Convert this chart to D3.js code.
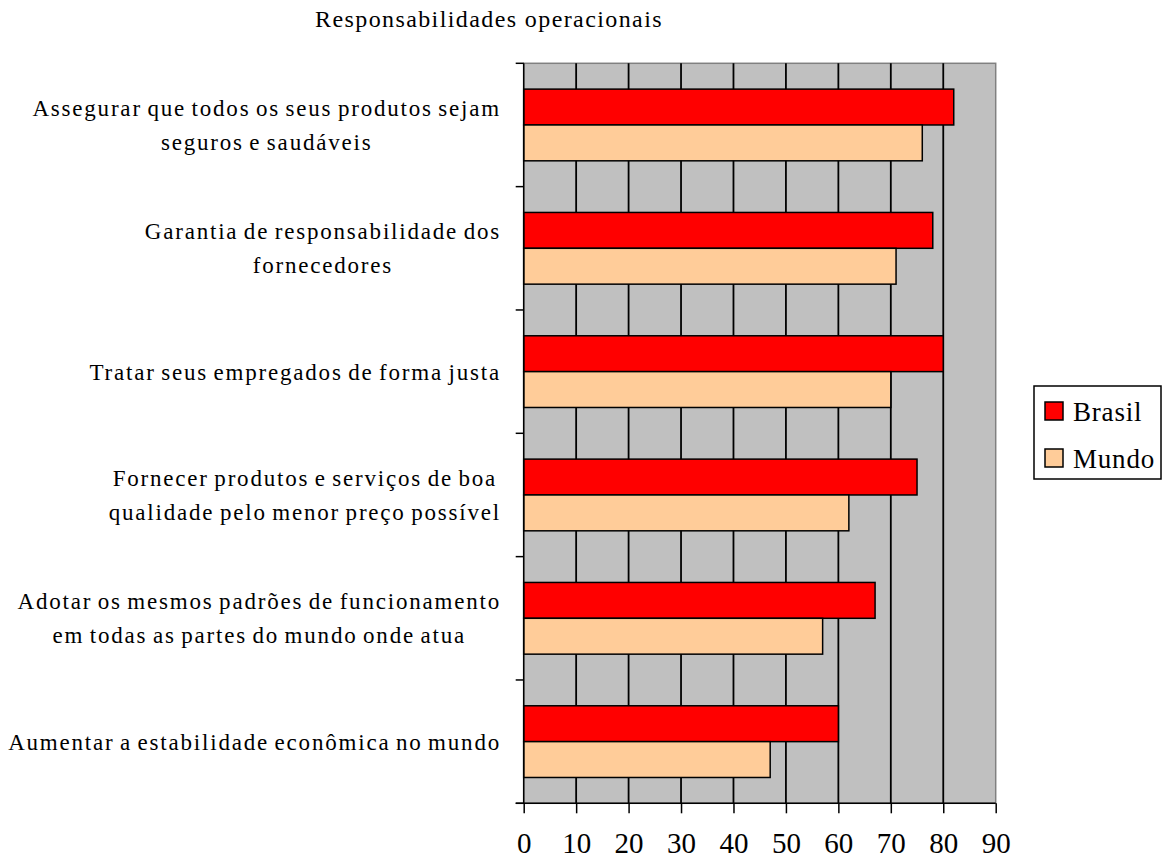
<!DOCTYPE html>
<html>
<head>
<meta charset="utf-8">
<script src="https://cdn.jsdelivr.net/npm/d3@7"></script>
<style>
  body { margin: 0; background: #fff; }
  text { font-family: "Liberation Serif", "Times New Roman", serif; fill: #000; }
</style>
</head>
<body>
<div id="chart"></div>
<script>
// chart data
const title = 'Responsabilidades operacionais'
const categories = [
  ['Assegurar que todos os seus produtos sejam', 'seguros e saudáveis'],
  ['Garantia de responsabilidade dos', 'fornecedores'],
  ['Tratar seus empregados de forma justa'],
  ['Fornecer produtos e serviços de boa', 'qualidade pelo menor preço possível'],
  ['Adotar os mesmos padrões de funcionamento', 'em todas as partes do mundo onde atua'],
  ['Aumentar a estabilidade econômica no mundo']
]
const seriesNames = ['Brasil', 'Mundo']
const brasil = [82, 78, 80, 75, 67, 60]
const mundo = [76, 71, 70, 62, 57, 47]
const xTicks = [0, 10, 20, 30, 40, 50, 60, 70, 80, 90]
const colors = ['#ff0000', '#ffcc99']

const width = 1170
const height = 865
const plot = { left: 523.7, right: 995.7, top: 63.3, bottom: 803.3 }

const svg = d3.select('#chart').append('svg')
  .attr('width', width)
  .attr('height', height)

const x = d3.scaleLinear().domain([0, 90]).range([plot.left, plot.right])
const y0 = d3.scaleBand().domain(d3.range(categories.length)).range([plot.top, plot.bottom])
const y1 = d3.scaleBand().domain(seriesNames).range([0, y0.bandwidth()]).paddingOuter(0.72)

// plot background
svg.append('rect')
  .attr('x', plot.left).attr('y', plot.top)
  .attr('width', plot.right - plot.left).attr('height', plot.bottom - plot.top)
  .attr('fill', '#c0c0c0')
  .attr('stroke', '#808080')
  .attr('stroke-width', 1.5)

// vertical gridlines
svg.append('g').selectAll('line')
  .data(xTicks.filter(d => d > 0 && d < 90))
  .join('line')
  .attr('x1', d => x(d)).attr('x2', d => x(d))
  .attr('y1', plot.top).attr('y2', plot.bottom)
  .attr('stroke', '#000')
  .attr('stroke-width', 1.8)

// bars
const values = [brasil, mundo]
const groups = svg.append('g').selectAll('g')
  .data(categories.map((c, i) => i))
  .join('g')
  .attr('transform', i => `translate(0,${y0(i)})`)

groups.selectAll('rect')
  .data(i => seriesNames.map((s, k) => ({ s, k, v: values[k][i] })))
  .join('rect')
  .attr('x', x(0))
  .attr('y', d => y1(d.s))
  .attr('width', d => x(d.v) - x(0))
  .attr('height', y1.bandwidth())
  .attr('fill', d => colors[d.k])
  .attr('stroke', '#000')
  .attr('stroke-width', 1.5)

// left axis
const yAxis = svg.append('g')
yAxis.append('line')
  .attr('x1', plot.left).attr('x2', plot.left)
  .attr('y1', plot.top).attr('y2', plot.bottom)
  .attr('stroke', '#000').attr('stroke-width', 1.5)
yAxis.selectAll('.tick')
  .data(d3.range(categories.length + 1))
  .join('line')
  .attr('x1', plot.left - 8).attr('x2', plot.left)
  .attr('y1', i => plot.top + i * y0.step())
  .attr('y2', i => plot.top + i * y0.step())
  .attr('stroke', '#000').attr('stroke-width', 1.5)

// bottom axis
const xAxis = svg.append('g')
  .attr('transform', `translate(0,${plot.bottom})`)
  .call(d3.axisBottom(x).tickValues(xTicks).tickSize(10).tickFormat(d3.format('d')))
xAxis.select('.domain').attr('stroke', '#000').attr('stroke-width', 1.5)
  .attr('d', `M${plot.left - 8},0H${plot.right}`)
xAxis.selectAll('.tick line').attr('stroke', '#000').attr('stroke-width', 1.5)
xAxis.selectAll('.tick text')
  .attr('y', 50)
  .attr('dy', 0)
  .style('font-family', '"Liberation Serif", serif')
  .style('font-size', '29px')
  .attr('fill', '#000')

// category labels
const lineGap = 34
categories.forEach((lines, i) => {
  const cy = y0(i) + y0.bandwidth() / 2
  const t = svg.append('text')
    .style('font-size', '23px')
    .style('letter-spacing', '1.8px')
    .style('word-spacing', '-2px')
    .attr('text-anchor', 'middle')
  lines.forEach((ln, j) => {
    t.append('tspan')
      .attr('y', cy + (j - (lines.length - 1) / 2) * lineGap + 8)
      .text(ln)
  })
  const maxW = d3.max(t.selectAll('tspan').nodes(), n => n.getComputedTextLength())
  t.selectAll('tspan').attr('x', 501 - maxW / 2)
})

// title
svg.append('text')
  .attr('x', 489).attr('y', 27)
  .attr('text-anchor', 'middle')
  .style('font-size', '24px')
  .style('letter-spacing', '1.4px')
  .text(title)

// legend
const legend = svg.append('g')
legend.append('rect')
  .attr('x', 1034).attr('y', 386)
  .attr('width', 127).attr('height', 93)
  .attr('fill', '#fff').attr('stroke', '#000').attr('stroke-width', 1.5)
const items = legend.selectAll('g.item')
  .data(seriesNames)
  .join('g')
  .attr('class', 'item')
  .attr('transform', (d, k) => `translate(1045,${402 + k * 47})`)
items.append('rect')
  .attr('width', 18).attr('height', 18)
  .attr('fill', (d, k) => colors[k])
  .attr('stroke', '#000').attr('stroke-width', 1.5)
items.append('text')
  .attr('x', 28).attr('y', 19)
  .style('font-size', '27px')
  .style('letter-spacing', '0.8px')
  .text(d => d)
</script>
</body>
</html>
